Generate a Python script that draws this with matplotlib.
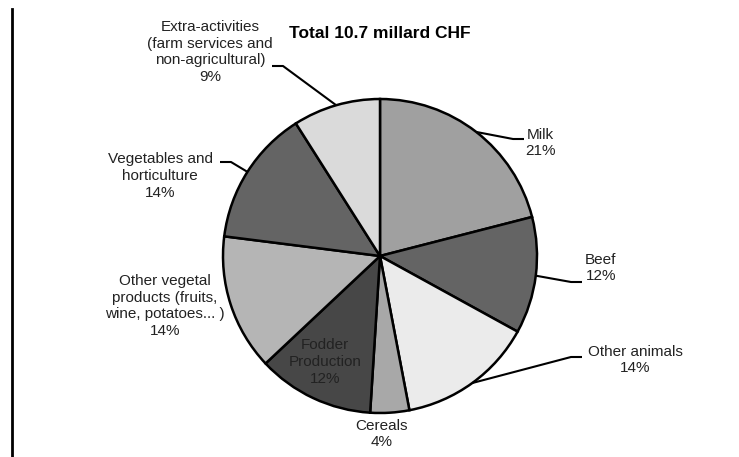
import numpy as np
import matplotlib
matplotlib.use('Agg')
import matplotlib.pyplot as plt

plt.rcParams['font.family'] = ['Liberation Sans', 'DejaVu Sans']

W, H = 739, 457

title = 'Total 10.7 millard CHF'
labels = ['Milk', 'Beef', 'Other animals', 'Cereals', 'Fodder\nProduction',
          'Other vegetal\nproducts (fruits,\nwine, potatoes... )',
          'Vegetables and\nhorticulture',
          'Extra-activities\n(farm services and\nnon-agricultural)']
shares = [21, 12, 14, 4, 12, 14, 14, 9]
colors = ['#a0a0a0', '#646464', '#ebebeb', '#a8a8a8', '#474747',
          '#b5b5b5', '#646464', '#dadada']

# layout in pixels (from top-left)
cx, cy, rad = 380, 256, 157
text_pos = [(540, 143), (601, 268), (635, 360), (382, 434), (325, 362),
            (165, 306), (160, 176), (210, 52)]
# where the leader line leaves the text (None = no leader)
lead_from = [(524, 139), (582, 282), (582, 357), None, None,
             None, (220, 162), (272, 66)]

fig = plt.figure(figsize=(W / 100, H / 100), dpi=100)
ax = fig.add_axes([0, 0, 1, 1])

def py(y):
    return H - y

wedges, _ = ax.pie(shares, colors=colors, startangle=90, counterclock=False,
                   center=(cx, py(cy)), radius=rad,
                   wedgeprops=dict(edgecolor='black', linewidth=1.8))

for i, (lab, s) in enumerate(zip(labels, shares)):
    tx, ty = text_pos[i]
    ax.text(tx, py(ty), f'{lab}\n{s}%', ha='center', va='center',
            fontsize=11, linespacing=1.25, color='#222222')
    if lead_from[i] is None:
        continue
    w = wedges[i]
    ang = np.deg2rad((w.theta1 + w.theta2) / 2)
    ex, ey = cx + rad * np.cos(ang), py(cy) + rad * np.sin(ang)
    lx, ly = lead_from[i][0], py(lead_from[i][1])
    step = 11 if ex > lx else -11
    ax.plot([lx, lx + step, ex], [ly, ly, ey], color='black', lw=1.5,
            solid_capstyle='butt')

ax.text(380, py(33), title, ha='center', va='center', fontsize=12.5,
        fontweight='bold')

ax.plot([11.5, 11.5], [py(9), 0], color='black', lw=2)

ax.set_xlim(0, W)
ax.set_ylim(0, H)
ax.set_aspect('auto')
ax.axis('off')

fig.savefig('out.png', dpi=100, facecolor='white')
